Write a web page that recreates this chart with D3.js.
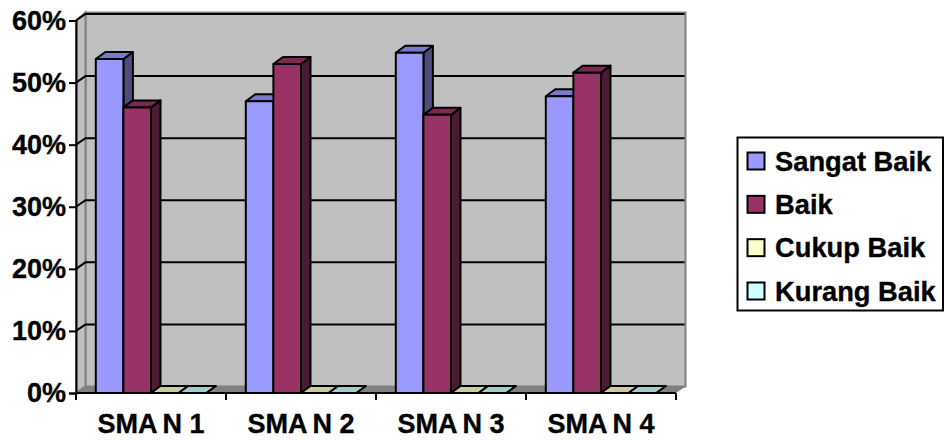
<!DOCTYPE html>
<html>
<head>
<meta charset="utf-8">
<script src="https://cdn.jsdelivr.net/npm/d3@7"></script>
<style>
body { margin: 0; background: #fff; }
svg { display: block; }
text { font-family: "Liberation Sans", Arial, sans-serif; font-weight: bold; fill: #000; stroke: #000; stroke-width: 0.35px; }
</style>
</head>
<body>
<div id="chart"></div>
<script>
const categories = ["SMAN 1", "SMAN 2", "SMAN 3", "SMAN 4"];
const seriesNames = ["Sangat Baik", "Baik", "Cukup Baik", "Kurang Baik"];
const sangatBaik = [0.538, 0.47, 0.548, 0.478];
const baik = [0.46, 0.53, 0.448, 0.516];
const cukupBaik = [0, 0, 0, 0];
const kurangBaik = [0, 0, 0, 0];
const yTicks = [0, 0.1, 0.2, 0.3, 0.4, 0.5, 0.6];

const allSeries = [sangatBaik, baik, cukupBaik, kurangBaik];
const front = ["#9999ff", "#993366", "#ffffcc", "#ccffff"];
const top_ = ["#7a7acc", "#7a2952", "#cccca3", "#a3cccc"];
const side = ["#4d4d80", "#4d1a33", "#808066", "#668080"];

const width = 945, height = 440;
const margin = {left: 76, right: 269, top: 20.5, bottom: 47};
const depthX = 9.5, depthY = 6.5;
const innerW = width - margin.left - margin.right;
const bottom = height - margin.bottom;

const svg = d3.select("#chart").append("svg")
    .attr("width", width)
    .attr("height", height);

const y = d3.scaleLinear().domain([0, 0.6]).range([bottom, margin.top]);
const x = d3.scaleBand().domain(categories).range([margin.left, margin.left + innerW]);
// 4 bars and one gap per category
const xBar = d3.scaleBand().domain(d3.range(4)).range([0, x.bandwidth()]).paddingOuter(0.717).paddingInner(0);

const pts = a => a.map(p => p.join(",")).join(" ");
const left = margin.left, right = margin.left + innerW;

// walls and floor
svg.append("polygon")
    .attr("points", pts([[left + depthX, margin.top - depthY - 1.5], [right + depthX, margin.top - depthY - 1.5],
        [right + depthX, bottom - depthY], [left + depthX, bottom - depthY]]))
    .attr("fill", "#c0c0c0").attr("stroke", "#808080").attr("stroke-width", 2);
svg.append("polygon")
    .attr("points", pts([[left, margin.top], [left + depthX, margin.top - depthY - 1.5],
        [left + depthX, bottom - depthY], [left, bottom]]))
    .attr("fill", "#c0c0c0").attr("stroke", "#808080").attr("stroke-width", 2);
svg.append("polygon")
    .attr("points", pts([[left, bottom], [left + depthX, bottom - depthY],
        [right + depthX, bottom - depthY], [right, bottom]]))
    .attr("fill", "#808080");

// gridlines
svg.selectAll(".grid").data(yTicks.slice(1)).enter().append("path")
    .attr("fill", "none").attr("stroke", "#000").attr("stroke-width", 2)
    .attr("d", d => `M${left},${y(d)}L${left + depthX},${y(d) - depthY}H${right + depthX - 1}`);
svg.append("path")
    .attr("fill", "none").attr("stroke", "#808080").attr("stroke-width", 2)
    .attr("d", `M${left},${bottom}L${left + depthX},${bottom - depthY}`);

// bars
categories.forEach((c, i) => {
    const g = svg.append("g").attr("stroke", "#000").attr("stroke-width", 2).attr("stroke-linejoin", "round");
    allSeries.forEach((s, j) => {
        const x0 = x(c) + xBar(j), x1 = x0 + xBar.bandwidth(), yv = y(s[i]);
        g.append("polygon")
            .attr("points", pts([[x1, yv], [x1 + depthX, yv - 7], [x1 + depthX, bottom - 7], [x1, bottom]]))
            .attr("fill", side[j]);
        g.append("polygon")
            .attr("points", pts([[x0, yv], [x0 + depthX, yv - 7], [x1 + depthX, yv - 7], [x1, yv]]))
            .attr("fill", top_[j]);
        g.append("rect")
            .attr("x", x0).attr("y", yv).attr("width", x1 - x0).attr("height", bottom - yv)
            .attr("fill", front[j]);
    });
});

// axes
const yAxis = svg.append("g").attr("transform", `translate(${left},0)`)
    .call(d3.axisLeft(y).tickValues(yTicks).tickFormat(d3.format(".0%")).tickSize(7).tickPadding(3));
const xAxis = svg.append("g").attr("transform", `translate(0,${bottom})`)
    .call(d3.axisBottom(x).tickSize(0).tickPadding(21));
yAxis.selectAll("path,line").attr("stroke", "#000").attr("stroke-width", 2);
xAxis.selectAll("path,line").attr("stroke", "#000").attr("stroke-width", 2);
xAxis.select(".domain").attr("d", `M${left},0H${right}`);
xAxis.selectAll(".sep").data(d3.range(categories.length + 1)).enter().append("line")
    .attr("x1", i => left + i * x.step()).attr("x2", i => left + i * x.step())
    .attr("y1", 0).attr("y2", 7)
    .attr("stroke", "#000").attr("stroke-width", 2);
yAxis.selectAll("text").style("font-size", "27px");
// the reference spreads the label around the N, so split it there
xAxis.selectAll("text").style("font-size", "27px").each(function(d) {
    const t = d3.select(this).text("");
    t.append("tspan").text(d.slice(0, 3));
    t.append("tspan").attr("dx", 5).text(d.slice(3));
});

// legend
const legend = svg.append("g");
legend.append("rect")
    .attr("x", 737.5).attr("y", 137.5).attr("width", 205.5).attr("height", 173)
    .attr("fill", "#fff").attr("stroke", "#000").attr("stroke-width", 2);
const legendY = d3.scalePoint().domain(seriesNames).range([161, 291]);
seriesNames.forEach((name, j) => {
    legend.append("rect")
        .attr("x", 747.5).attr("y", legendY(name) - 8.5).attr("width", 17).attr("height", 17)
        .attr("fill", front[j]).attr("stroke", "#000").attr("stroke-width", 2);
    legend.append("text")
        .attr("x", 775).attr("y", legendY(name)).attr("dy", "0.35em")
        .style("font-size", "27.3px").text(name);
});
</script>
</body>
</html>
